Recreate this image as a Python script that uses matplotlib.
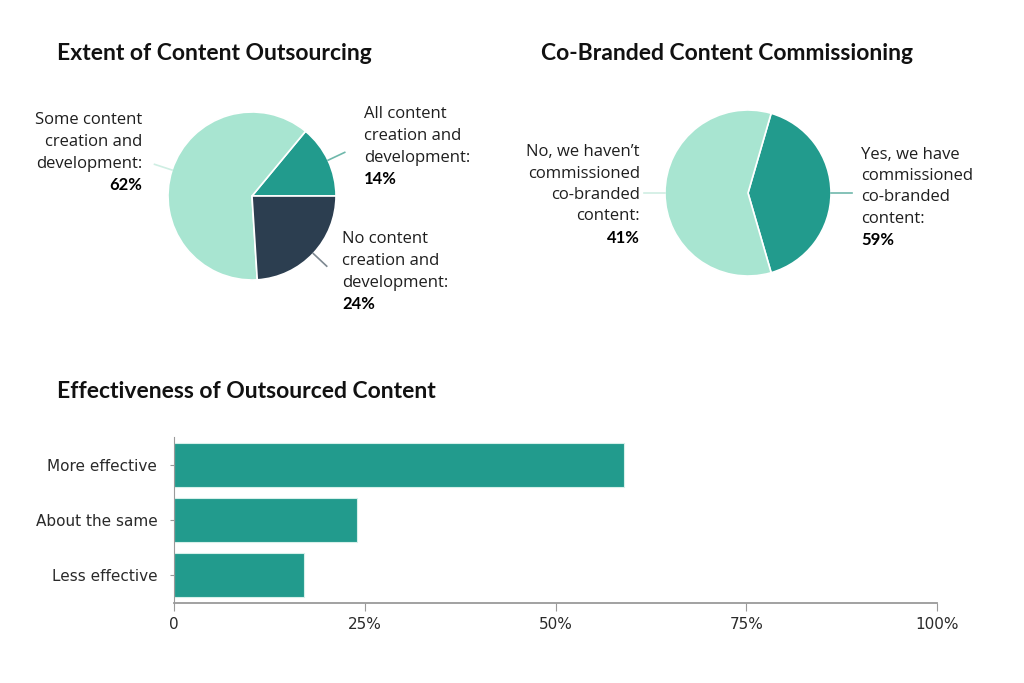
import numpy as np
import matplotlib
matplotlib.use("Agg")
import matplotlib.pyplot as plt

# pie 1: extent of content outsourcing (drawn counter-clockwise from east)
outsourcing_labels = ["All content\ncreation and\ndevelopment:", "Some content\ncreation and\ndevelopment:",
                      "No content\ncreation and\ndevelopment:"]
outsourcing_values = [14, 62, 24]

# pie 2: co-branded content commissioning
cobrand_labels = ["Yes, we have\ncommissioned\nco-branded\ncontent:", "No, we haven\u2019t\ncommissioned\nco-branded\ncontent:"]
cobrand_values = [41, 59]
cobrand_pct_text = ["59%", "41%"]  # as printed on the source chart

# bar chart: effectiveness of outsourced content
effect_labels = ["More effective", "About the same", "Less effective"]
effect_values = [59, 24, 17]
x_ticks = [0, 25, 50, 75, 100]
x_tick_labels = ["0", "25%", "50%", "75%", "100%"]

LIGHT = "#a8e5d1"
TEAL = "#229b8d"
NAVY = "#2c3e50"
TXT = "#1e1e1e"

W, H = 1024, 683
plt.rcParams["font.family"] = ["Open Sans", "DejaVu Sans"]
BOLD_FONT = ["Lato", "DejaVu Sans"]
TICK_FONT = ["DejaVu Sans"]

fig = plt.figure(figsize=(W / 100, H / 100), dpi=100)
fig.patch.set_facecolor("white")


def px_axes(cx, cy, r):
    return fig.add_axes([(cx - r) / W, 1 - (cy + r) / H, 2 * r / W, 2 * r / H])


def label(x, y, text, pct, ha, step=21.8, size=12):
    lines = text.split("\n")
    for i, ln in enumerate(lines):
        fig.text(x / W, 1 - (y + i * step) / H, ln, ha=ha, va="center", fontsize=size, color=TXT)
    fig.text(x / W, 1 - (y + len(lines) * step) / H, pct, ha=ha, va="center", fontsize=size,
             color="#000000", fontweight="bold", family=BOLD_FONT)


def leaders(ax, wedges, colors, r0=1.0, r1=1.22):
    for w, c in zip(wedges, colors):
        a = np.deg2rad((w.theta1 + w.theta2) / 2)
        ax.plot([r0 * np.cos(a), r1 * np.cos(a)], [r0 * np.sin(a), r1 * np.sin(a)],
                color=c, lw=1.2, clip_on=False)


# titles
for x, y, t in [(57, 53, "Extent of Content Outsourcing"), (541, 53, "Co-Branded Content Commissioning"),
                (57, 391, "Effectiveness of Outsourced Content")]:
    fig.text(x / W, 1 - y / H, t, fontsize=16.5, fontweight="bold", color="#111111", va="center", family=BOLD_FONT)

# pie 1
ax1 = px_axes(252, 196, 84)
w1, _ = ax1.pie(outsourcing_values, colors=[TEAL, LIGHT, NAVY], startangle=0, counterclock=True,
                wedgeprops=dict(edgecolor="white", linewidth=1.2))
ax1.set_xlim(-1, 1)
ax1.set_ylim(-1, 1)
leaders(ax1, w1, ["#6fb8ab", "#cfeee3", "#7d8891"])
label(364, 114, outsourcing_labels[0], f"{outsourcing_values[0]}%", "left")
label(142, 120, outsourcing_labels[1], f"{outsourcing_values[1]}%", "right")
label(342, 239, outsourcing_labels[2], f"{outsourcing_values[2]}%", "left")

# pie 2
ax2 = px_axes(748, 193, 83)
start = -cobrand_values[0] / 100 * 180
w2, _ = ax2.pie(cobrand_values, colors=[TEAL, LIGHT], startangle=start, counterclock=True,
                wedgeprops=dict(edgecolor="white", linewidth=1.2))
ax2.set_xlim(-1, 1)
ax2.set_ylim(-1, 1)
leaders(ax2, w2, ["#6fb8ab", "#cfeee3"], r1=1.25)
label(861, 155, cobrand_labels[0], cobrand_pct_text[0], "left", step=21.2)
label(640, 152, cobrand_labels[1], cobrand_pct_text[1], "right", step=21.5)

# bar chart
ax3 = fig.add_axes([174 / W, 1 - 603 / H, (937 - 174) / W, (603 - 437) / H])
ypos = np.arange(len(effect_labels))
ax3.barh(ypos, effect_values, height=0.79, color=TEAL, edgecolor="#d6f0ea", linewidth=0.8)
ax3.set_xlim(0, 100)
ax3.set_ylim(len(effect_labels) - 0.5, -0.5)
ax3.set_yticks(ypos)
ax3.set_yticklabels(effect_labels, fontsize=11, color="#2a2a2a", family=TICK_FONT)
ax3.set_xticks(x_ticks)
ax3.set_xticklabels(x_tick_labels, fontsize=11, color="#2a2a2a", family=TICK_FONT)
for s in ["top", "right"]:
    ax3.spines[s].set_visible(False)
ax3.spines["left"].set_color("#9a9a9a")
ax3.spines["bottom"].set_color("#9a9a9a")
ax3.spines["bottom"].set_linewidth(1.3)
ax3.tick_params(axis="y", length=3, color="#9a9a9a", pad=9)
ax3.tick_params(axis="x", length=6, color="#9a9a9a", pad=4)

fig.savefig("out.png", dpi=100, facecolor="white")
